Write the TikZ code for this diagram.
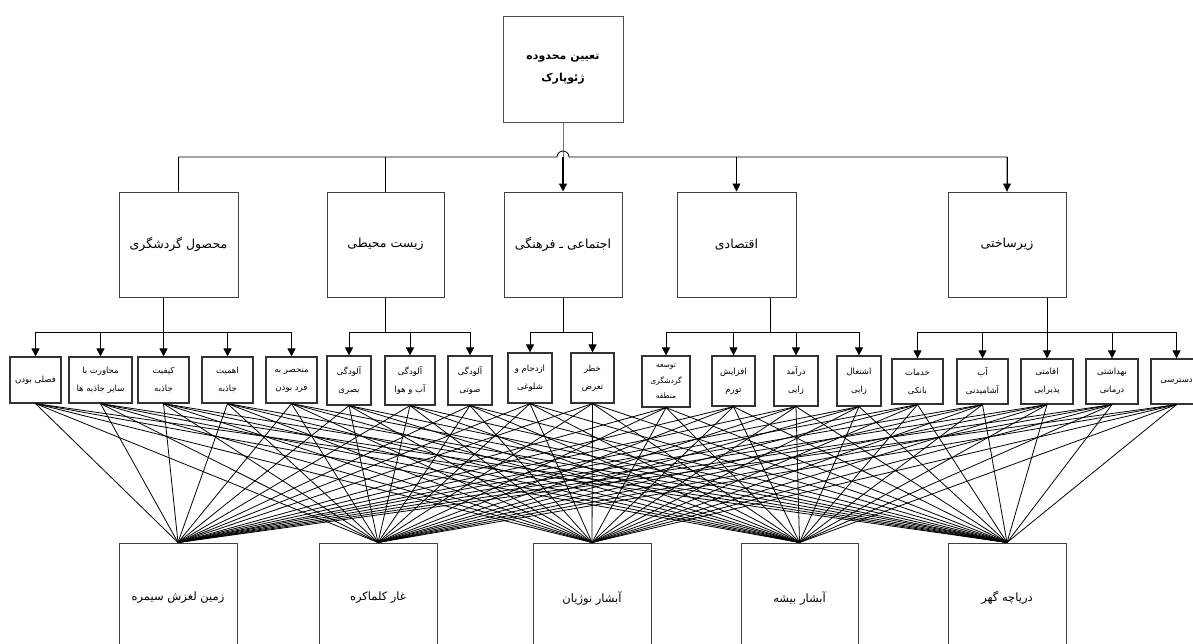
\documentclass[tikz,border=0pt]{standalone}
\usepackage{fontspec}
\newfontfamily\arabicfont[Script=Arabic]{DejaVu Sans}
\TeXXeTstate=1
\usetikzlibrary{arrows.meta,calc}
\newcommand\fa[1]{\beginR #1\endR}
\begin{document}
\begin{tikzpicture}[x=1pt,y=-1pt,
  conn/.style={line width=0.8pt,draw=black},
  arr/.style={conn,-{Triangle[length=8pt,width=8pt]}},
  web/.style={line width=0.8pt,draw=black},
  topbox/.style={draw=black!70,line width=1pt,fill=white,inner sep=1pt,align=center,
    minimum width=120pt,minimum height=106pt,
    font=\arabicfont\bfseries\fontsize{11}{22}\selectfont},
  lvtwo/.style={draw=black!75,line width=1pt,fill=white,inner sep=1pt,align=center,
    minimum height=105pt,font=\arabicfont\fontsize{12.5}{16}\selectfont},
  lvthree/.style={draw=black!80,line width=1.2pt,fill=white,inner sep=0pt,align=center,
    minimum height=46pt,font=\arabicfont\fontsize{8.5}{18}\selectfont},
  lvthreeb/.style={lvthree,font=\arabicfont\fontsize{7.5}{15.5}\selectfont},
  botbox/.style={draw=black!75,line width=1pt,fill=white,inner sep=1pt,align=center,
    minimum width=118pt,minimum height=110pt,font=\arabicfont\fontsize{11.5}{14}\selectfont}]
\useasboundingbox (0,0) rectangle (1193,643);
\clip (0,0) rectangle (1193,643);

% top
\node[topbox] (top) at (563,69) {\fa{تعیین محدوده}\\\fa{ژئوپارک}};

% level 2
\node[lvtwo,minimum width=119pt] (l2a) at (178.5,244.5) {\fa{محصول گردشگری}};
\node[lvtwo,minimum width=117pt] (l2b) at (385.5,244.5) {\fa{زیست محیطی}};
\node[lvtwo,minimum width=118pt] (l2c) at (563,244.5) {\fa{اجتماعی ـ فرهنگی}};
\node[lvtwo,minimum width=119pt] (l2d) at (736.5,244.5) {\fa{اقتصادی}};
\node[lvtwo,minimum width=118pt] (l2e) at (1007,244.5) {\fa{زیرساختی}};

% level 3
\node[lvthree,minimum width=51pt] (c1) at (35.5,380) {\fa{فصلی بودن}};
\node[lvthree,minimum width=63pt] (c2) at (100.5,380) {\fa{مجاورت با}\\\fa{سایر جاذبه ها}};
\node[lvthree,minimum width=51pt] (c3) at (163.5,380) {\fa{کیفیت}\\\fa{جاذبه}};
\node[lvthree,minimum width=51pt] (c4) at (227.5,380) {\fa{اهمیت}\\\fa{جاذبه}};
\node[lvthree,minimum width=51pt] (c5) at (291.5,380) {\fa{منحصر به}\\\fa{فرد بودن}};
\node[lvthree,minimum width=44pt,minimum height=49pt] (c6) at (349,380.5) {\fa{آلودگی}\\\fa{بصری}};
\node[lvthree,minimum width=50pt,minimum height=49pt] (c7) at (410,380.5) {\fa{آلودگی}\\\fa{آب و هوا}};
\node[lvthree,minimum width=44pt,minimum height=49pt] (c8) at (470,380.5) {\fa{آلودگی}\\\fa{صوتی}};
\node[lvthree,minimum width=44pt,minimum height=50pt] (c9) at (530,378) {\fa{ازدحام و}\\\fa{شلوغی}};
\node[lvthree,minimum width=43pt,minimum height=50pt] (c10) at (592.5,378) {\fa{خطر}\\\fa{تعرض}};
\node[lvthreeb,minimum width=48pt,minimum height=51pt] (c11) at (666,381.5) {\fa{توسعه}\\\fa{گردشگری}\\\fa{منطقه}};
\node[lvthree,minimum width=43pt,minimum height=50pt] (c12) at (733.5,381) {\fa{افزایش}\\\fa{تورم}};
\node[lvthree,minimum width=44pt,minimum height=50pt] (c13) at (796,381) {\fa{درآمد}\\\fa{زایی}};
\node[lvthree,minimum width=44pt,minimum height=50pt] (c14) at (859,381) {\fa{اشتغال}\\\fa{زایی}};
\node[lvthree,minimum width=51pt,minimum height=45pt] (c15) at (917.5,381.5) {\fa{خدمات}\\\fa{بانکی}};
\node[lvthree,minimum width=51pt,minimum height=45pt] (c16) at (982.5,381.5) {\fa{آب}\\\fa{آشامیدنی}};
\node[lvthree,minimum width=52pt,minimum height=45pt] (c17) at (1047,381.5) {\fa{اقامتی}\\\fa{پذیرایی}};
\node[lvthree,minimum width=52pt,minimum height=45pt] (c18) at (1112,381.5) {\fa{بهداشتی}\\\fa{درمانی}};
\node[lvthree,minimum width=51pt,minimum height=45pt] (c19) at (1176.5,381.5) {\fa{دسترسی}};

% bottom
\node[botbox] (b1) at (178,598) {\fa{زمین لغزش سیمره}};
\node[botbox] (b2) at (378,598) {\fa{غار کلماکره}};
\node[botbox] (b3) at (592,598) {\fa{آبشار نوژیان}};
\node[botbox,minimum width=117pt] (b4) at (799.5,598) {\fa{آبشار بیشه}};
\node[botbox] (b5) at (1007,598) {\fa{دریاچه گهر}};

% web of connections
\foreach \a in {c1,c2,c3,c4,c5,c6,c7,c8,c9,c10,c11,c12,c13,c14,c15,c16,c17,c18,c19}
  \foreach \b in {b1,b2,b3,b4,b5}
    \draw[web] (\a.south) -- (\b.north);

% level 1 -> level 2
\coordinate (hop) at (563,157);
\draw[conn,draw=black!55] (top.south) -- (hop);
\draw[conn] (l2a.north) |- ($(hop)+(-6,0)$) arc (180:360:6) -| (l2e.north);
\draw[conn,line width=1.2pt,-{Triangle[length=8pt,width=8pt]}] (hop) -- (l2c.north);
\draw[conn] (l2b.north |- hop) -- (l2b.north);
\draw[arr] (l2d.north |- hop) -- (l2d.north);
\draw[arr] (l2e.north |- hop) -- (l2e.north);

% level 2 -> level 3
\foreach \c in {c1,c2,c3,c4,c5}
  \draw[arr] (c3.north |- l2a.south) -- ++(0,35) -| (\c.north);
\foreach \c in {c6,c7,c8}
  \draw[arr] (l2b.south) -- ++(0,35) -| (\c.north);
\foreach \c in {c9,c10}
  \draw[arr] (l2c.south) -- ++(0,35) -| (\c.north);
\foreach \c in {c11,c12,c13,c14}
  \draw[arr] ($(l2d.south)+(33.5,0)$) -- ++(0,35) -| (\c.north);
\foreach \c in {c15,c16,c17,c18,c19}
  \draw[arr] (c17.north |- l2e.south) -- ++(0,35) -| (\c.north);
\end{tikzpicture}
\end{document}
